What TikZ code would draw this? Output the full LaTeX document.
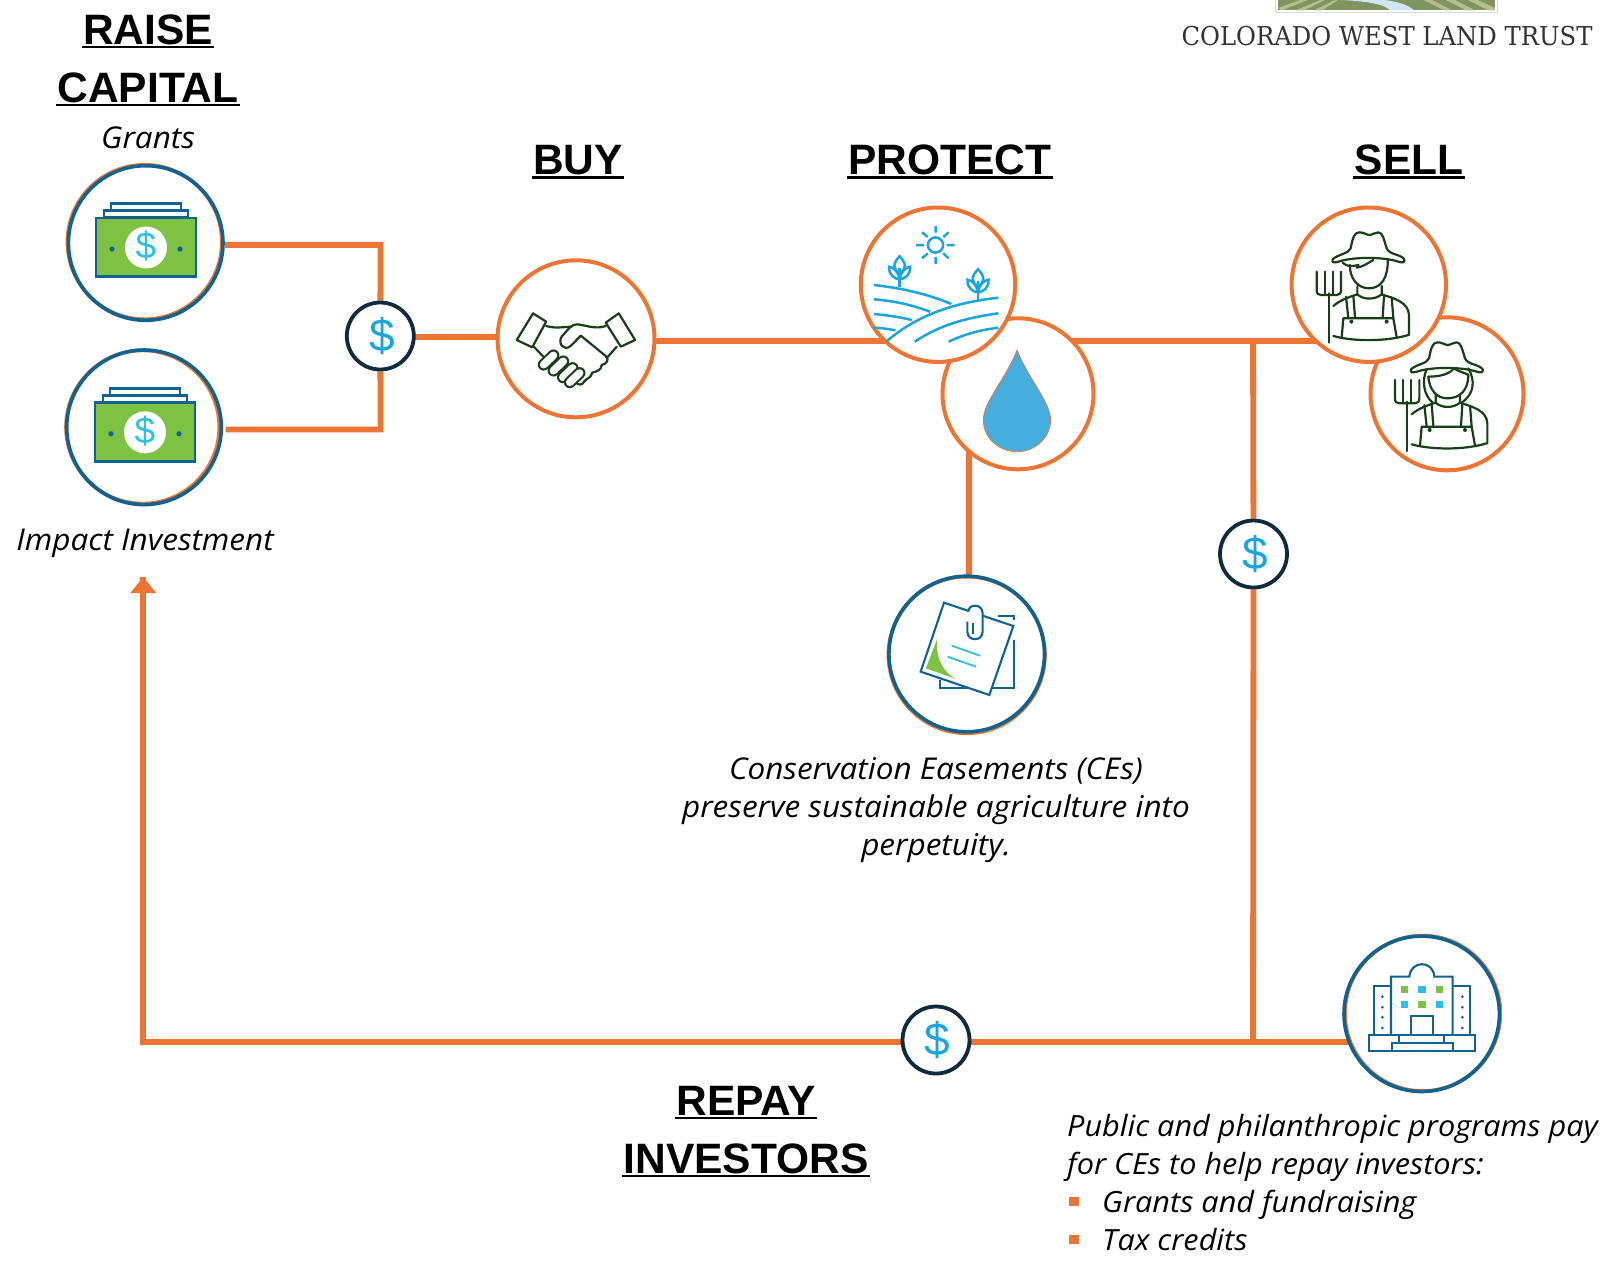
\documentclass[tikz,border=0pt]{standalone}
\usepackage{fontspec}
\setmainfont{Liberation Sans}
\newfontfamily\itf[FakeStretch=1.05]{Open Sans}
\newfontfamily\slab[FakeStretch=0.935]{DejaVu Serif}
\usetikzlibrary{arrows.meta}
\definecolor{org}{HTML}{EC7534}
\definecolor{blu}{HTML}{0F6390}
\definecolor{navy}{HTML}{0D2B3C}
\definecolor{sky}{HTML}{1AA5DE}
\definecolor{cyn}{HTML}{2CC0E8}
\definecolor{grn}{HTML}{7DC242}
\definecolor{dgrn}{HTML}{173F17}
\definecolor{dropc}{HTML}{45AEDF}
\definecolor{olv}{HTML}{7F9460}
\definecolor{olvl}{HTML}{B4BE8E}
\definecolor{rvr}{HTML}{CFE6EE}
\pgfdeclarelayer{bg}
\pgfsetlayers{bg,main}
\newcommand\hul[1]{\setbox0\hbox{#1}\kern-1.5pt\rlap{\rule[-4.4pt]{\dimexpr\wd0+3pt\relax}{2.8pt}}\kern1.5pt\box0}
\newcommand\farmerhat{%
 \draw[ic] (518,778) .. controls (535,762) and (565,762) .. (572,745) .. controls (578,715) and (582,697) .. (598,697) .. controls (612,697) and (620,705) .. (628,705) .. controls (636,705) and (645,697) .. (655,697) .. controls (668,697) and (672,720) .. (680,745) .. controls (688,765) and (722,762) .. (733,778) .. controls (736,790) and (725,788) .. (715,785) .. controls (670,770) and (580,770) .. (535,785) .. controls (525,788) and (514,790) .. (518,778) -- cycle;}
\newcommand\farmerbody{%
 \draw[ic] (592,858) -- (592,883) .. controls (610,900) and (645,900) .. (665,883) -- (665,858);
 \draw[ic] (520,918) .. controls (540,900) and (570,890) .. (592,883);
 \draw[ic] (665,883) .. controls (700,895) and (745,905) .. (747,945) -- (747,1005);
 \draw[ic] (558,890) -- (565,955) (580,888) -- (585,952) (672,888) -- (668,952) (695,892) -- (700,955);
 \draw[ic] (545,1012) -- (550,955) -- (700,955) -- (710,1012);
 \fill[dgrn] (574,965) circle (6) (680,965) circle (6);
 \draw[ic] (520,1008) .. controls (580,1025) and (680,1025) .. (745,1005);
 \draw[ic] (506,880) -- (506,1028) (494,815) -- (494,885) (518,815) -- (518,885);
 \draw[ic] (470,815) -- (470,870) .. controls (470,880) and (474,885) .. (482,885) -- (530,885) .. controls (538,885) and (543,880) .. (543,870) -- (543,815);}
\tikzset{
 conn/.style={draw=org,line width=5.8pt},
 ringo/.style={circle,draw=org,line width=4pt,fill=white,inner sep=0pt,minimum size=#1},
 ringb/.style={circle,draw=blu,line width=3.6pt,inner sep=0pt,minimum size=#1},
 ringback/.style={draw=org,line width=3.6pt,fill=white},
 dol/.style={circle,draw=navy,line width=3.8pt,fill=white,inner sep=0pt,minimum size=67pt,text=sky,font=\fontsize{46}{46}\selectfont},
 mdol/.style={inner sep=0pt,text=cyn,font=\fontsize{37}{37}\selectfont},
 head/.style={inner sep=0pt,anchor=base,align=center,font=\fontsize{42.5}{58}\selectfont\bfseries},
 lab/.style={inner sep=0pt,anchor=base,font=\itf\itshape\fontsize{30}{38}\selectfont},
 ic/.style={draw=dgrn,line width=2.2pt,line join=round,line cap=round},
 ib/.style={draw=blu,line width=2.1pt,line join=miter},
 fm/.style={draw=sky,line width=2.5pt},
 money/.pic={
  \draw[blu,line width=2.4pt,fill=white] (-35,-44) rectangle (35,-30);
  \draw[blu,line width=2.4pt,fill=white] (-42,-37) rectangle (42,-30);
  \draw[blu,line width=2.8pt,fill=grn] (-50,-29.5) rectangle (50,29);
  \fill[white] (0,0) circle (21);
  \fill[blu] (-34,1.5) circle (2.6) (34,1.5) circle (2.6);
 },
 plant/.pic={
  \draw[fm] (0,0) -- (0,-19);
  \draw[fm] (0,-31) .. controls (-7,-24) and (-7,-18) .. (0,-14) .. controls (7,-18) and (7,-24) .. (0,-31) -- cycle;
  \draw[fm] (0,-8) .. controls (-5,-8.5) and (-11,-12) .. (-10.5,-20.5) .. controls (-6,-20) and (-1.5,-16) .. (0,-8);
  \draw[fm] (0,-8) .. controls (5,-8.5) and (11,-12) .. (10.5,-20.5) .. controls (6,-20) and (1.5,-16) .. (0,-8);
 }
}
\begin{document}
\begin{tikzpicture}[x=1pt,y=-1pt]
\useasboundingbox (0,0) rectangle (1613,1261);

% logo strip
\draw[black!15,line width=1pt] (1275.5,-2) rectangle (1497.5,12.6);
\begin{scope}
\clip (1278,0) rectangle (1495,10.3);
\fill[olv] (1278,0) rectangle (1495,10.3);
\fill[olvl] (1278,8) -- (1300,0) -- (1308,0) -- (1282,10.3) -- cycle;
\fill[olvl] (1296,10.3) -- (1320,0) -- (1325,0) -- (1304,10.3) -- cycle;
\fill[olvl] (1314,10.3) -- (1335,0) -- (1338,0) -- (1322,10.3) -- cycle;
\fill[olvl] (1424,0) -- (1432,0) -- (1452,10.3) -- (1444,10.3) -- cycle;
\fill[olvl] (1446,0) -- (1455,0) -- (1475,10.3) -- (1466,10.3) -- cycle;
\fill[olvl] (1468,0) -- (1478,0) -- (1495,8) -- (1495,10.3) -- (1488,10.3) -- cycle;
\fill[rvr] (1340,0) .. controls (1365,1) and (1385,4) .. (1390,10.3) -- (1414,10.3) .. controls (1410,6) and (1400,2) .. (1385,0) -- cycle;
\end{scope}

% rings with offset orange
\draw[ringback] (144.6,242) circle (77.2);
\draw[ringback] (142.6,427) circle (76.6);
\draw[ringback] (966.7,655) circle (78.3);
\draw[ringback] (1422.7,1013.3) circle (77.7);

% nodes
\node[ringb=154.6pt] (cap1) at (145.7,243) {};
\node[ringb=154.6pt] (cap2) at (144,427.3) {};
\node[dol] (d1) at (380.3,336) {\kern3pt\$};
\node[ringo=157pt] (hs) at (576,338.8) {};
\node[ringo=151pt] (water) at (1018,393.8) {};
\node[ringo=154.4pt] (farm) at (938,284.7) {};
\node[ringo=153pt] (f2) at (1447,393.8) {};
\node[ringo=154.4pt] (f1) at (1368.8,284.7) {};
\node[ringb=155.6pt] (doc) at (966.7,654) {};
\node[ringb=155.4pt] (bld) at (1421.7,1013.8) {};
\node[dol] (d2) at (1253.5,554) {\kern3pt\$};
\node[dol] (d3) at (936,1040) {\kern3pt\$};

\coordinate (j1) at (1253,341);
\coordinate (j2) at (1253,1042);
\coordinate (c0) at (143.3,1042);
\coordinate (a1) at (143.3,577);
\coordinate (v1) at (968.6,420);
\coordinate (b1) at (380.5,245);
\coordinate (b2) at (380.5,429.5);
\coordinate (s1) at (225,245);
\coordinate (s2) at (225.5,429.5);

\begin{pgfonlayer}{bg}
 \fill[white] (0,0) rectangle (1613,1261);
 \draw[conn] (s1) -- (b1) -- (d1);
 \draw[conn] (s2) -- (b2) -- (d1);
 \draw[conn] ([yshift=-1pt]d1.center) -- ([yshift=-1pt]d1.center -| hs);
 \draw[conn] (hs.center |- j1) -- (j1);
 \draw[conn] (j1) -- (f1.center |- j1);
 \draw[conn] (v1) -- (v1 |- doc);
 \draw[conn] ([yshift=2.5pt]j1) -- (d2) -- (j2);
 \draw[conn] (bld.center |- j2) -- (j2) -- (c0) -- (a1);
 \fill[org] (a1) -- ++(13,16) -- ++(-26,0) -- cycle;
\end{pgfonlayer}

% money
\pic at (146,247.5) {money};
\pic at (145,432.3) {money};
\node[mdol] (m1) at (146,246.5) {\$};
\node[mdol] (m2) at (145,431.3) {\$};

% handshake
\begin{scope}[shift={(480,190)},xscale=0.40816,yscale=0.33333]
 \draw[ic] (130,370) -- (162,395) -- (128,472) -- (90,450) -- cycle;
 \draw[ic] (340,370) -- (380,450) -- (345,470) -- (308,398) -- cycle;
 \draw[ic] (162,408) .. controls (180,415) and (200,412) .. (222,410);
 \draw[ic] (132,470) -- (155,500);
 \draw[ic] (335,470) -- (312,502);
 \draw[ic] (308,408) .. controls (285,418) and (265,408) .. (240,403) .. controls (225,400) and (215,420) .. (200,440) .. controls (190,460) and (205,485) .. (222,468) -- (247,437) -- (308,498) .. controls (318,510) and (310,522) .. (298,525) .. controls (298,540) and (285,545) .. (275,548) .. controls (272,565) and (260,565) .. (255,575) .. controls (250,588) and (240,585) .. (233,575);
 \foreach \fx/\fy in {168/510,192/528,215/548,232/563}{
  \draw[dgrn,line width=11.8pt,line cap=round] (\fx-12,\fy+14) -- (\fx+12,\fy-14);
  \draw[white,line width=7.6pt,line cap=round] (\fx-12,\fy+14) -- (\fx+12,\fy-14);
 }
\end{scope}

% farm
\draw[fm] (935.5,245) circle (7.6);
\draw[fm] (935.5,226) -- (935.5,232.7) (935.5,257) -- (935.5,264) (916,245) -- (924,245) (946.5,245) -- (954.7,245)
 (922,232.3) -- (927.8,237) (948.6,232.3) -- (943.3,237) (922,258.3) -- (927.8,253.3) (948.6,258.3) -- (943.3,253.3);
\pic at (899.6,287.3) {plant};
\pic at (978,300.3) {plant};
\draw[fm] (873.9,285) .. controls (900,288) and (925,293) .. (951.4,304);
\draw[fm] (873.9,299.3) .. controls (895,301) and (912,305) .. (930.2,311.7);
\draw[fm] (873.9,314) .. controls (885,315) and (900,317) .. (911.8,320);
\draw[fm] (873.9,327.7) .. controls (882,328) and (888,329) .. (895.5,330.3);
\draw[fm] (886.1,341.7) .. controls (915,317) and (950,303) .. (998.4,297.7);
\draw[fm] (914.7,341.7) .. controls (940,325) and (965,318) .. (998.4,313.3);
\draw[fm] (948.6,341.7) .. controls (965,334) and (980,330) .. (998.4,327.7);

% water drop
\draw[org,line width=0.7pt,fill=dropc] (1017.1,350) .. controls (1005,380) and (983.3,402) .. (983.3,420) .. controls (983.3,438) and (999,451.7) .. (1017.1,451.7) .. controls (1035,451.7) and (1050.6,438) .. (1050.6,420) .. controls (1050.6,402) and (1029,380) .. (1017.1,350) -- cycle;

% farmers
\begin{scope}[shift={(1160,0)},scale=0.33333]
 \farmerhat
 \farmerbody
 \draw[ic] (570,795) .. controls (568,830) and (590,865) .. (627,865) .. controls (665,865) and (685,830) .. (683,780);
 \draw[ic] (548,788) .. controls (560,800) and (575,800) .. (595,795) -- (590,803) .. controls (610,800) and (622,790) .. (640,780);
 \begin{scope}[shift={(235,330)}]\farmerhat\end{scope}
 \begin{scope}[shift={(235,325)}]\farmerbody\end{scope}
 \draw[ic] (805,1130) .. controls (808,1170) and (830,1195) .. (862,1195) .. controls (900,1195) and (925,1170) .. (925,1125);
 \draw[ic] (805,1130) .. controls (845,1130) and (870,1120) .. (882,1105) .. controls (895,1115) and (915,1118) .. (925,1125);
 \draw[ic] (800,1108) .. controls (785,1140) and (790,1185) .. (818,1208);
 \draw[ic] (925,1105) .. controls (945,1140) and (945,1180) .. (905,1208);
\end{scope}

% documents
\begin{scope}[shift={(860,560)},scale=0.33333]
 \draw[ib] (415,168) -- (462,168) -- (462,180);
 \draw[ib] (462,240) -- (462,385) -- (240,385) -- (240,360);
 \draw[ib,fill=white] (252,128) -- (460,198) -- (388,405) -- (182,335) -- cycle;
 \fill[grn] (232,235) .. controls (225,300) and (255,340) .. (288,357) -- (198,325) -- cycle;
 \draw[ib,fill=white] (322,185) -- (322,215) .. controls (322,245) and (368,245) .. (368,215) -- (368,160) .. controls (368,130) and (325,130) .. (325,155);
 \draw[ib] (340,190) -- (340,222);
 \draw[cyn,line width=1.8pt] (275,257) -- (360,287) (263,290) -- (348,320);
\end{scope}

% building
\begin{scope}[shift={(1320,920)},scale=0.33333]
 \draw[ib] (162,345) -- (162,198) -- (213,198);
 \draw[ib] (398,198) -- (450,198) -- (450,345);
 \draw[ib] (213,345) -- (213,170) -- (268,170) .. controls (272,120) and (340,120) .. (343,170) -- (398,170) -- (398,345);
 \draw[ib] (147,345) rectangle (465,392);
 \draw[ib] (237,345) -- (237,368) (373,345) -- (373,368);
 \draw[ib] (215,392) -- (215,368) -- (398,368) -- (398,392);
 \draw[ib] (273,345) -- (273,288) -- (338,288) -- (338,345);
 \foreach \wx/\wy/\wc in {253/208/grn,306/208/cyn,358/208/grn,253/253/cyn,306/253/grn,358/253/cyn}{
  \fill[\wc] (\wx-11,\wy-11) rectangle (\wx+11,\wy+11);
 }
 \foreach \dy in {230,262,292,324}{
  \fill[blu] (187,\dy) circle (4.5) (427,\dy) circle (4.5);
 }
\end{scope}

% texts
\node[head] (t1) at (148,102) {\hul{RAISE}\\\hul{CAPITAL}};
\node[head] (t2) at (578,174.5) {\hul{BUY}};
\node[head] (t3) at (950,174.5) {\hul{PROTECT}};
\node[head] (t4) at (1409,174.5) {\hul{SELL}};
\node[head] (t5) at (746,1173) {\hul{REPAY}\\\hul{INVESTORS}};
\node[lab] (g) at (148,148.5) {Grants};
\node[lab] (ii) at (145,550.5) {Impact Investment};
\node[lab,align=center] (ce) at (936,855.5) {Conservation Easements (CEs)\\preserve sustainable agriculture into\\perpetuity.};
\node[lab,align=left,anchor=base west,font=\itf\itshape\fontsize{29.2}{38}\selectfont] (pp) at (1067,1250) {Public and philanthropic programs pay\\for CEs to help repay investors:\\\makebox[35pt][l]{\kern2pt\textcolor{org}{\rule[6pt]{9.5pt}{9.5pt}}}Grants and fundraising\\\makebox[35pt][l]{\kern2pt\textcolor{org}{\rule[6pt]{9.5pt}{9.5pt}}}Tax credits};
\node[inner sep=0pt,anchor=base,text=black!80,font=\slab\fontsize{26}{30}\selectfont] (cw) at (1387,45) {COLORADO WEST LAND TRUST};
\end{tikzpicture}
\end{document}
